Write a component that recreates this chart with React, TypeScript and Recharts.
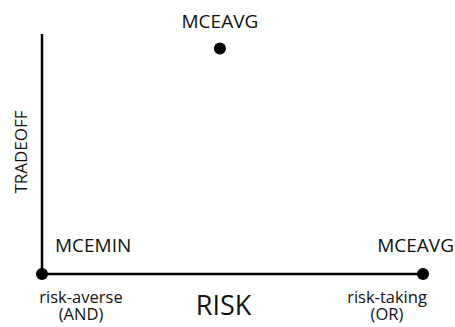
import { ScatterChart, Scatter, XAxis, YAxis, Label } from 'recharts'

const FONT = '"Open Sans", "Noto Sans", sans-serif'

// points: risk (x) vs tradeoff (y), both 0..1
const pointNames = ['MCEAVG', 'MCEMIN', 'MCEAVG']
const riskValues = [0.467, 0, 1]
const tradeoffValues = [0.94, 0, 0]

const xTicks = [0, 1]
const xTickLabels = [
    ['risk-averse', '(AND)'],
    ['risk-taking', '(OR)'],
]

const data = pointNames.map((name, i) => ({
    name,
    x: riskValues[i],
    y: tradeoffValues[i],
}))

function PointShape(props: any) {
    const { cx, cy, payload } = props
    let label
    if (payload.y > 0.5) {
        label = (
            <text x={cx} y={cy - 20} textAnchor="middle" fontSize={19} fill="#111" fontFamily={FONT}>
                {payload.name}
            </text>
        )
    } else if (payload.x < 0.5) {
        label = (
            <text x={cx + 13} y={cy - 22} textAnchor="start" fontSize={19} fill="#111" fontFamily={FONT}>
                {payload.name}
            </text>
        )
    } else {
        label = (
            <text x={cx + 31} y={cy - 22} textAnchor="end" fontSize={19} fill="#111" fontFamily={FONT}>
                {payload.name}
            </text>
        )
    }
    return (
        <g>
            <circle cx={cx} cy={cy} r={6} fill="#000" />
            {label}
        </g>
    )
}

function RiskTick(props: any) {
    const { x, y, payload, index } = props
    const lines = xTickLabels[index] ?? []
    const cx = payload.value === 0 ? x + 39 : x - 36
    return (
        <g>
            {lines.map((l, i) => (
                <text
                    key={i}
                    x={cx}
                    y={y + 29 + i * 17}
                    textAnchor="middle"
                    fontSize={16.5}
                    fill="#111"
                    fontFamily={FONT}
                >
                    {l}
                </text>
            ))}
        </g>
    )
}

export default function App() {
    return (
        <div style={{ position: 'absolute', left: 0, top: 0, background: '#fff' }}>
            <ScatterChart width={455} height={327} margin={{ top: 34, right: 32, left: 0, bottom: 0 }}>
                <XAxis
                    type="number"
                    dataKey="x"
                    domain={[0, 1]}
                    ticks={xTicks}
                    height={53}
                    axisLine={{ stroke: '#000', strokeWidth: 2.5 }}
                    tickLine={false}
                    tickSize={0}
                    tickMargin={0}
                    tick={<RiskTick />}
                    interval={0}
                >
                    <Label
                        content={({ viewBox }: any) => (
                            <text
                                x={viewBox.x + viewBox.width / 2 - 9}
                                y={315}
                                textAnchor="middle"
                                fontSize={27}
                                fill="#111"
                                fontFamily={FONT}
                            >
                                RISK
                            </text>
                        )}
                    />
                </XAxis>
                <YAxis
                    type="number"
                    dataKey="y"
                    domain={[0, 1]}
                    width={42}
                    axisLine={{ stroke: '#000', strokeWidth: 2.5 }}
                    tickLine={false}
                    tick={false}
                >
                    <Label
                        content={() => (
                            <text
                                x={27}
                                y={152}
                                textAnchor="middle"
                                fontSize={17}
                                fill="#111"
                                fontFamily={FONT}
                                transform="rotate(-90, 27, 152)"
                            >
                                TRADEOFF
                            </text>
                        )}
                    />
                </YAxis>
                <Scatter data={data} shape={<PointShape />} isAnimationActive={false} />
            </ScatterChart>
        </div>
    )
}
